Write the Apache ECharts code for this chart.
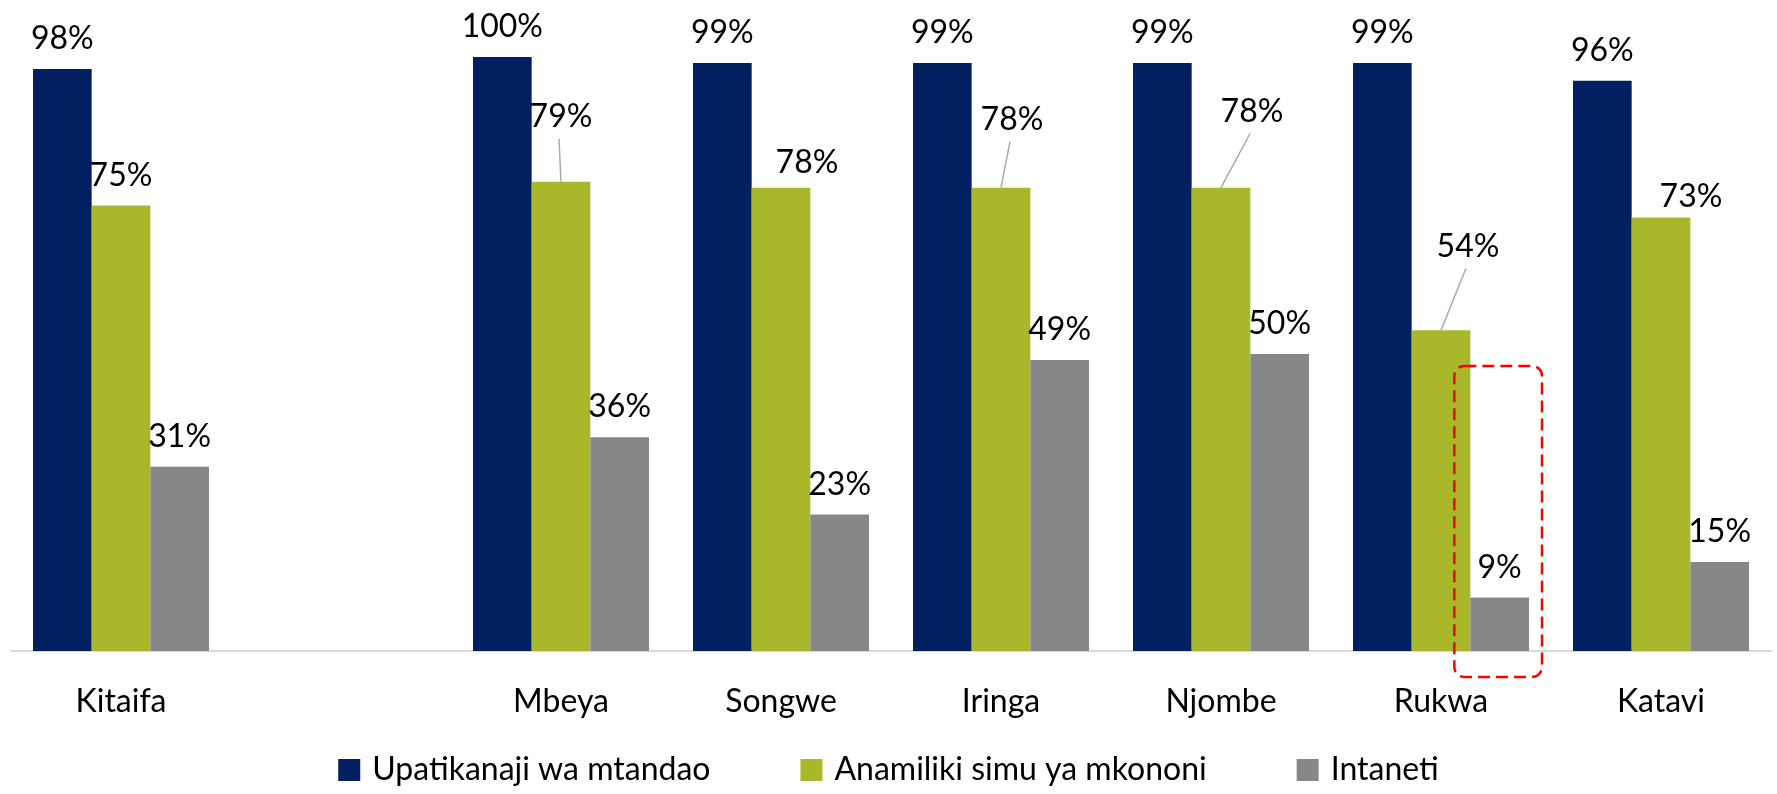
<!DOCTYPE html>
<html>
<head>
<meta charset="utf-8">
<script src="https://cdn.jsdelivr.net/npm/echarts@6/dist/echarts.min.js"></script>
<style>
html, body { margin: 0; padding: 0; background: #fff; }
#main { width: 1777px; height: 794px; }
</style>
</head>
<body>
<div id="main"></div>
<script>
var categories = ['Kitaifa', '', 'Mbeya', 'Songwe', 'Iringa', 'Njombe', 'Rukwa', 'Katavi'];
var seriesNames = ['Upatikanaji wa mtandao', 'Anamiliki simu ya mkononi', 'Intaneti'];
var mtandao = [98, null, 100, 99, 99, 99, 99, 96];
var simu = [75, null, 79, 78, 78, 78, 54, 73];
var intaneti = [31, null, 36, 23, 49, 50, 9, 15];

// where the green labels were pushed in the original: [dx, dy, leader line?]
var simuShift = [[0, 0, 0], null, [0, -35, 1], [26, 5, 0], [11, -38, 1], [31, -46, 1], [27, -54, 1], [30, 9, 0]];

// red dashed highlight round the Rukwa internet bar
var highlightCat = 'Rukwa';
var highlightTop = 48;

var font = 'Lato, "Open Sans", sans-serif';
var colors = ['#02205f', '#a8b82a', '#878787'];

var chart = echarts.init(document.getElementById('main'));

var labelStyle = {
    show: true,
    position: 'top',
    distance: 14,
    fontSize: 32,
    fontFamily: font,
    color: '#000',
    formatter: '{c}%'
};

var option = {
    animation: false,
    color: colors,
    grid: { left: 11, right: 6, top: 57, bottom: 143, outerBoundsMode: 'none' },
    legend: {
        data: seriesNames,
        bottom: 3,
        left: 'center',
        icon: 'rect',
        itemWidth: 22,
        itemHeight: 22,
        itemGap: 90,
        textStyle: { fontSize: 32, fontFamily: font, color: '#000', padding: [0, 0, 0, 7] }
    },
    xAxis: {
        type: 'category',
        data: categories,
        axisLine: { lineStyle: { color: '#d9d9d9', width: 2 } },
        axisTick: { show: false },
        axisLabel: { fontSize: 32, fontFamily: font, color: '#000', margin: 35 }
    },
    yAxis: {
        type: 'value',
        min: 0,
        max: 100,
        show: false,
        splitLine: { show: false }
    },
    series: [
        {
            name: seriesNames[0],
            type: 'bar',
            barGap: '0%',
            barCategoryGap: '20%',
            data: mtandao,
            label: labelStyle
        },
        {
            name: seriesNames[1],
            type: 'bar',
            barGap: '0%',
            barCategoryGap: '20%',
            data: simu,
            label: labelStyle,
            labelLayout: function (p) {
                var s = simuShift[p.dataIndex];
                if (!s) return {};
                return { dx: s[0], dy: s[1] };
            }
        },
        {
            name: seriesNames[2],
            type: 'bar',
            barGap: '0%',
            barCategoryGap: '20%',
            data: intaneti,
            label: labelStyle
        }
    ]
};
chart.setOption(option);

// leader lines and the dashed box, placed from the axes
function drawExtras() {
    var g = [];
    simu.forEach(function (v, i) {
        var s = simuShift[i];
        if (v == null || !s || !s[2]) return;
        var p = chart.convertToPixel({ gridIndex: 0 }, [i, v]);
        var lx = p[0] + s[0] - 2;
        var ly = p[1] - 33 + s[1] + 25;
        g.push({
            type: 'line',
            shape: { x1: lx, y1: ly, x2: p[0], y2: p[1] },
            style: { stroke: '#aaaaaa', lineWidth: 1.5 },
            z: 10
        });
    });

    var idx = categories.indexOf(highlightCat);
    var c = chart.convertToPixel({ gridIndex: 0 }, [idx, 0]);
    var c2 = chart.convertToPixel({ gridIndex: 0 }, [idx + 1, 0]);
    var band = c2[0] - c[0];
    var bw = band * 0.8 / 3;
    var gx = c[0] + bw;
    var top = chart.convertToPixel({ gridIndex: 0 }, [idx, highlightTop])[1];
    g.push({
        type: 'rect',
        shape: { x: gx - bw / 2 - 16, y: top, width: bw + 29, height: c[1] + 26 - top, r: 10 },
        style: { fill: 'none', stroke: '#ff0000', lineWidth: 2.5, lineDash: [12, 6] },
        z: 10
    });
    chart.setOption({ graphic: g });
}
drawExtras();
</script>
</body>
</html>
